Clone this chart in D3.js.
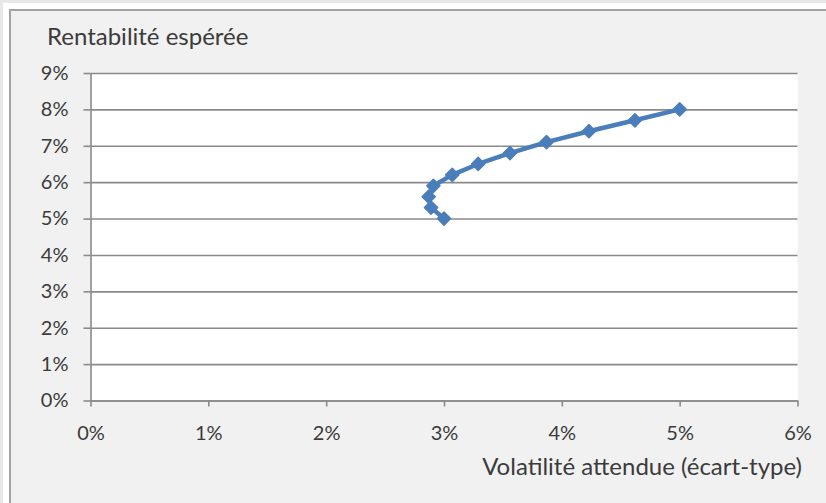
<!DOCTYPE html>
<html>
<head>
<meta charset="utf-8">
<script src="https://cdn.jsdelivr.net/npm/d3@7"></script>
<style>
  html, body { margin: 0; padding: 0; background: #e8e8e8; }
  svg { display: block; }
  text { font-family: Lato, "Open Sans", sans-serif; fill: #3b3b3b; }
</style>
</head>
<body>
<svg id="chart" width="826" height="503"></svg>
<script>
// Efficient frontier: expected return vs. expected volatility
const volatility     = [0.0300, 0.0289, 0.0287, 0.0291, 0.0307, 0.0329, 0.0356, 0.0387, 0.0423, 0.0462, 0.0500];
const expectedReturn = [0.050, 0.053, 0.056, 0.059, 0.062, 0.065, 0.068, 0.071, 0.074, 0.077, 0.080];
const xTickValues = [0, 0.01, 0.02, 0.03, 0.04, 0.05, 0.06];
const yTickValues = [0, 0.01, 0.02, 0.03, 0.04, 0.05, 0.06, 0.07, 0.08, 0.09];
const yTitle = "Rentabilité espérée";
const xTitle = "Volatilité attendue (écart-type)";

const points = volatility.map((v, i) => ({ x: v, y: expectedReturn[i] }));

const W = 826, H = 503;
const plot = { left: 90.5, right: 797.5, top: 73, bottom: 400.5 };
const seriesColor = "#4a7ebb";
const gridColor = "#8a8a8a";

const svg = d3.select("#chart");

// page strip, white gap, frame border and chart area
svg.append("rect").attr("x", 0).attr("y", 0).attr("width", W).attr("height", H).attr("fill", "#e8e8e8");
svg.append("rect").attr("x", 3).attr("y", 3).attr("width", W).attr("height", H).attr("fill", "#ffffff");
svg.append("rect").attr("x", 9).attr("y", 9).attr("width", W).attr("height", H).attr("fill", "#a3a3a3");
svg.append("rect").attr("x", 11).attr("y", 11).attr("width", W).attr("height", H).attr("fill", "#f1f1f1");

const x = d3.scaleLinear().domain([0, 0.06]).range([plot.left, plot.right]);
const y = d3.scaleLinear().domain([0, 0.09]).range([plot.bottom, plot.top]);

// white plot area
svg.append("rect")
  .attr("x", plot.left).attr("y", plot.top)
  .attr("width", plot.right - plot.left).attr("height", plot.bottom - plot.top)
  .attr("fill", "#ffffff");

const pct = d3.format(".0%");

// horizontal gridlines + y axis
const yAxis = svg.append("g")
  .attr("transform", `translate(${plot.left},0)`)
  .call(d3.axisLeft(y).tickValues(yTickValues).tickFormat(pct).tickSizeInner(7).tickSizeOuter(0).tickPadding(15));
yAxis.selectAll(".tick line").attr("stroke", gridColor).attr("stroke-width", 1.6);
yAxis.selectAll(".tick").append("line")
  .attr("x1", 0).attr("x2", plot.right - plot.left)
  .attr("stroke", gridColor).attr("stroke-width", 1.6);
yAxis.select(".domain").attr("stroke", gridColor).attr("stroke-width", 1.6);
yAxis.selectAll(".tick text").attr("font-size", 20).attr("font-family", "Lato").attr("fill", "#3b3b3b");

// x axis
const xAxis = svg.append("g")
  .attr("transform", `translate(0,${plot.bottom})`)
  .call(d3.axisBottom(x).tickValues(xTickValues).tickFormat(pct).tickSizeInner(6).tickSizeOuter(0).tickPadding(19));
xAxis.selectAll(".tick line").attr("stroke", gridColor).attr("stroke-width", 1.6);
xAxis.select(".domain").attr("stroke", gridColor).attr("stroke-width", 1.6);
xAxis.selectAll(".tick text").attr("font-size", 20).attr("font-family", "Lato").attr("fill", "#3b3b3b");

// series line
const line = d3.line().x(d => x(d.x)).y(d => y(d.y));
svg.append("path")
  .datum(points)
  .attr("d", line)
  .attr("fill", "none")
  .attr("stroke", seriesColor)
  .attr("stroke-width", 4.5)
  .attr("stroke-linejoin", "round");

// diamond markers
const diamond = d3.symbol().type(d3.symbolDiamond2).size(110);
svg.append("g").selectAll("path")
  .data(points)
  .join("path")
  .attr("transform", d => `translate(${x(d.x)},${y(d.y)})`)
  .attr("d", diamond)
  .attr("fill", seriesColor)
  .attr("stroke", seriesColor)
  .attr("stroke-width", 1.5)
  .attr("stroke-linejoin", "round");

// axis titles
svg.append("text")
  .attr("x", 47).attr("y", 45)
  .attr("font-size", 24)
  .text(yTitle);

svg.append("text")
  .attr("x", 802).attr("y", 475)
  .attr("text-anchor", "end")
  .attr("font-size", 24)
  .text(xTitle);
</script>
</body>
</html>
